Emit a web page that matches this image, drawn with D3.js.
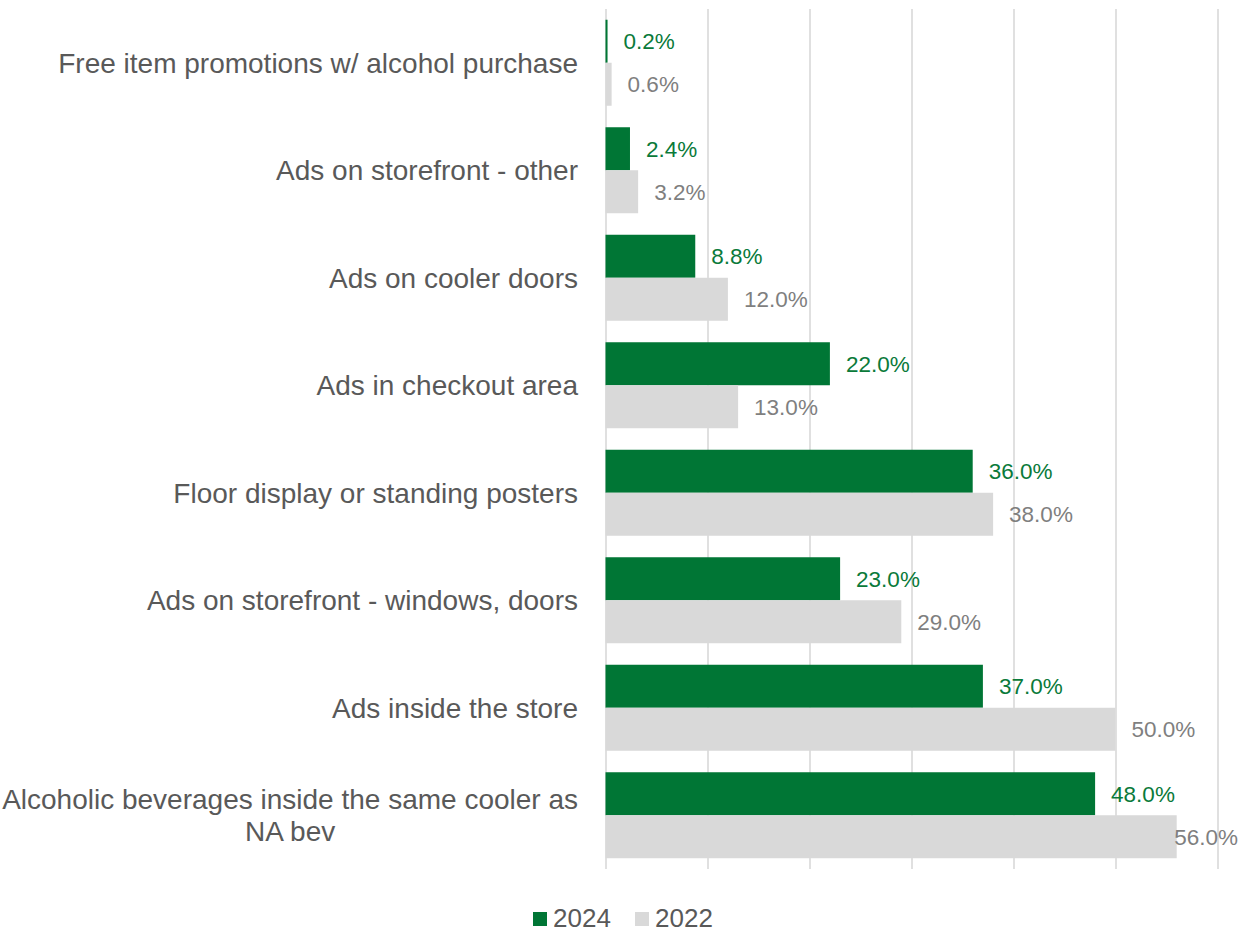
<!DOCTYPE html>
<html>
<head>
<meta charset="utf-8">
<script src="https://cdn.jsdelivr.net/npm/d3@7"></script>
<style>
  html, body { margin: 0; padding: 0; background: #ffffff; }
  svg { display: block; }
</style>
</head>
<body>
<svg id="chart" width="1246" height="933"></svg>
<script>
// Retail alcohol marketing observations, 2024 vs 2022 (percent of stores)
const categories = [
  "Free item promotions w/ alcohol purchase",
  "Ads on storefront - other",
  "Ads on cooler doors",
  "Ads in checkout area",
  "Floor display or standing posters",
  "Ads on storefront - windows, doors",
  "Ads inside the store",
  "Alcoholic beverages inside the same cooler as NA bev"
];
const seriesNames = ["2024", "2022"];
const values2024 = [0.2, 2.4, 8.8, 22.0, 36.0, 23.0, 37.0, 48.0];
const values2022 = [0.6, 3.2, 12.0, 13.0, 38.0, 29.0, 50.0, 56.0];
const xTicks = [0, 10, 20, 30, 40, 50, 60];

const colors = { "2024": "#007635", "2022": "#d9d9d9" };
const labelColors = { "2024": "#0a7a3a", "2022": "#7f7f7f" };

const svg = d3.select("#chart");
const W = 1246;
const plot = { left: 605.5, right: 1217.5, top: 9, bottom: 869 };

const rows = categories.map((c, i) => ({
  category: c,
  values: [
    { series: "2024", value: values2024[i] },
    { series: "2022", value: values2022[i] }
  ]
}));

const x = d3.scaleLinear().domain([0, 60]).range([plot.left, plot.right]);
const y0 = d3.scaleBand().domain(categories)
  .range([plot.top, plot.bottom]).paddingInner(0.2).paddingOuter(0.1);
const y1 = d3.scaleBand().domain(seriesNames).range([0, y0.bandwidth()]);

// vertical gridlines
const grid = svg.append("g")
  .attr("transform", `translate(0,${plot.bottom})`)
  .call(d3.axisBottom(x).tickValues(xTicks)
    .tickSize(-(plot.bottom - plot.top)).tickFormat(""));
grid.select(".domain").remove();
grid.selectAll(".tick line").attr("stroke", "#d9d9d9").attr("stroke-width", 1.6);

// bars
const groups = svg.append("g").selectAll("g")
  .data(rows).join("g")
  .attr("transform", d => `translate(0,${y0(d.category)})`);

groups.selectAll("rect")
  .data(d => d.values).join("rect")
  .attr("x", x(0))
  .attr("y", d => y1(d.series))
  .attr("width", d => x(d.value) - x(0))
  .attr("height", y1.bandwidth())
  .attr("fill", d => colors[d.series]);

// value labels, kept inside the chart's right edge
const labelFont = "'Liberation Sans Narrow', 'Arial Narrow', sans-serif";
groups.selectAll("text.value")
  .data(d => d.values).join("text")
  .attr("class", "value")
  .attr("y", d => y1(d.series) + y1.bandwidth() / 2)
  .attr("dy", "0.36em")
  .attr("font-family", labelFont)
  .attr("font-size", 22.5)
  .attr("fill", d => labelColors[d.series])
  .text(d => d.value.toFixed(1) + "%")
  .each(function (d) {
    const w = this.getComputedTextLength();
    const pos = Math.min(x(d.value) + 16, W - 8 - w);
    d3.select(this).attr("x", pos);
  });

// category labels (wrapped when too long, centred lines)
const catFont = "'Liberation Sans', Arial, sans-serif";
const catX = 578;
const maxW = 580;
const lineH = 32;
const catG = svg.append("g");
categories.forEach(c => {
  const t = catG.append("text")
    .attr("font-family", catFont).attr("font-size", 28).attr("fill", "#595959");
  // break into lines
  const words = c.split(" ");
  const lines = [];
  let cur = [];
  const probe = t.append("tspan");
  words.forEach(wd => {
    const test = cur.concat(wd).join(" ");
    probe.text(test);
    if (probe.node().getComputedTextLength() > maxW && cur.length) {
      lines.push(cur.join(" "));
      cur = [wd];
    } else {
      cur.push(wd);
    }
  });
  lines.push(cur.join(" "));
  probe.remove();
  const cy = y0(c) + y0.bandwidth() / 2;
  if (lines.length === 1) {
    t.attr("text-anchor", "end").attr("x", catX).attr("y", cy).attr("dy", "0.36em").text(lines[0]);
  } else {
    // measure widest line to centre the block under the right edge
    let widest = 0;
    lines.forEach(l => {
      const s = t.append("tspan").text(l);
      widest = Math.max(widest, s.node().getComputedTextLength());
      s.remove();
    });
    const cx = catX - widest / 2;
    t.attr("text-anchor", "middle");
    const y0Line = cy - (lines.length - 1) * lineH / 2;
    lines.forEach((l, i) => {
      t.append("tspan").attr("x", cx).attr("y", y0Line + i * lineH).attr("dy", "0.36em").text(l);
    });
  }
});

// legend
const legend = svg.append("g");
const legendItems = [
  { name: "2024", sx: 533, tx: 553 },
  { name: "2022", sx: 635, tx: 655 }
];
legend.selectAll("rect").data(legendItems).join("rect")
  .attr("x", d => d.sx).attr("y", 912).attr("width", 14).attr("height", 14)
  .attr("fill", d => colors[d.name]);
legend.selectAll("text").data(legendItems).join("text")
  .attr("x", d => d.tx).attr("y", 918).attr("dy", "0.36em")
  .attr("font-family", catFont).attr("font-size", 26).attr("fill", "#595959")
  .text(d => d.name);
</script>
</body>
</html>
